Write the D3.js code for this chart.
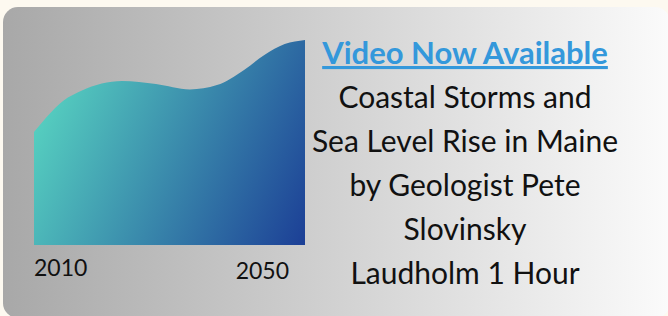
<!DOCTYPE html>
<meta charset="utf-8">
<style>
body { margin: 0; background: #fdf9f0; }
svg { display: block; }
.axis text { font: 23px Lato, sans-serif; fill: #111; }
.blurb text { font: 30px Lato, sans-serif; fill: #111; text-anchor: middle; }
.blurb .title { font-size: 31px; font-weight: 700; fill: #3498db; text-decoration: underline; }
</style>
<svg width="668" height="316"></svg>
<script src="https://cdn.jsdelivr.net/npm/d3@7"></script>
<script>

var years = [2010, 2015, 2017, 2023, 2028, 2033, 2037, 2041, 2044, 2047, 2050],
    level = [0.551, 0.719, 0.753, 0.80, 0.785, 0.759, 0.78, 0.854, 0.927, 0.98, 1.0],
    tickYears = [2010, 2050],
    lines = ["Video Now Available", "Coastal Storms and", "Sea Level Rise in Maine",
             "by Geologist Pete", "Slovinsky", "Laudholm 1 Hour"];

var data = years.map(function(d, i) { return {year: d, value: level[i]}; });

var svg = d3.select("svg"),
    width = +svg.attr("width"),
    height = +svg.attr("height");

var defs = svg.append("defs");

var card = defs.append("linearGradient").attr("id", "card")
    .attr("x1", 0).attr("x2", 1).attr("y1", 0).attr("y2", 0);
card.append("stop").attr("offset", 0).attr("stop-color", "#a8a8a8");
card.append("stop").attr("offset", 1).attr("stop-color", "#fbfbfb");

var sea = defs.append("linearGradient").attr("id", "sea")
    .attr("gradientUnits", "userSpaceOnUse")
    .attr("x1", 34).attr("y1", 120).attr("x2", 305).attr("y2", 245);
sea.append("stop").attr("offset", 0).attr("stop-color", "#56d0c0");
sea.append("stop").attr("offset", 1).attr("stop-color", "#1c3f96");

svg.append("rect")
    .attr("x", 3).attr("y", 7)
    .attr("width", width - 1).attr("height", height - 5)
    .attr("rx", 15)
    .attr("fill", "url(#card)");

var x = d3.scaleLinear().domain([2010, 2050]).range([34, 305]),
    y = d3.scaleLinear().domain([0, 1]).range([245, 40]);

var area = d3.area()
    .x(function(d) { return x(d.year); })
    .y0(y(0))
    .y1(function(d) { return y(d.value); })
    .curve(d3.curveMonotoneX);

svg.append("path")
    .datum(data)
    .attr("d", area)
    .attr("fill", "url(#sea)");

svg.append("g")
    .attr("class", "axis")
  .selectAll("text")
    .data(tickYears)
  .enter().append("text")
    .attr("x", function(d, i) { return i ? x(d) - 16 : x(d); })
    .attr("y", function(d, i) { return i ? 279 : 276; })
    .attr("text-anchor", function(d, i) { return i ? "end" : "start"; })
    .text(function(d) { return d; });

svg.append("g")
    .attr("class", "blurb")
  .selectAll("text")
    .data(lines)
  .enter().append("text")
    .attr("class", function(d, i) { return i ? null : "title"; })
    .attr("x", 465)
    .attr("y", function(d, i) { return 64 + i * 44; })
    .text(function(d) { return d; });

</script>
